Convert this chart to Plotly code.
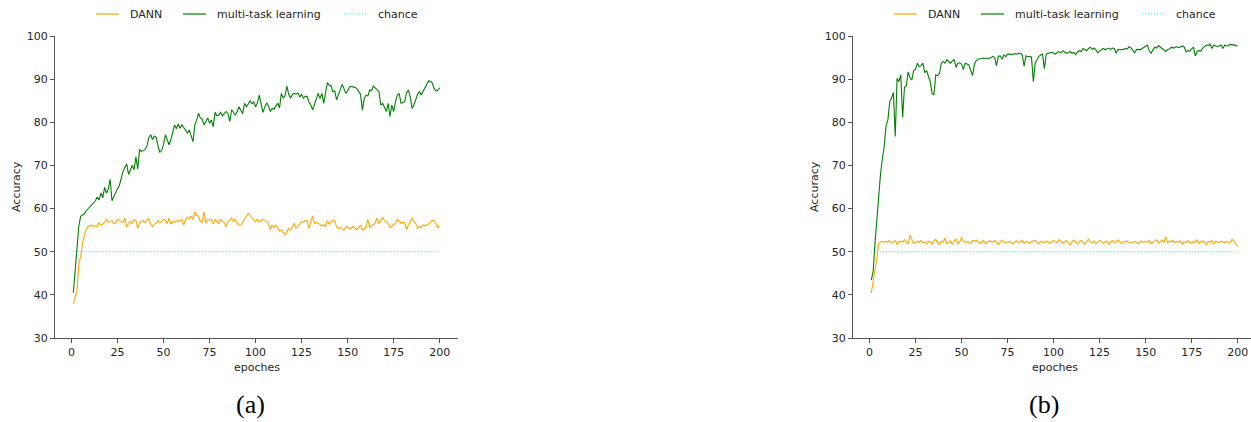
import plotly.graph_objects as go

# ---- data -------------------------------------------------------------
epochs = list(range(1, 201))

dann_a = [
    37.9, 39.5, 41.1, 47.3, 48.8, 52.0, 53.5, 55.2, 55.8, 56.0,
    56.2, 55.8, 56.0, 55.8, 56.7, 56.2, 56.4, 56.9, 57.5, 56.8,
    57.0, 57.2, 56.5, 56.7, 57.5, 57.2, 57.0, 56.8, 57.8, 55.8,
    56.5, 57.0, 56.6, 57.5, 57.2, 55.4, 56.8, 57.0, 57.2, 56.8,
    57.2, 57.8, 56.5, 55.8, 56.4, 56.6, 57.2, 56.7, 57.0, 57.5,
    57.3, 56.5, 57.8, 56.4, 57.0, 56.8, 57.2, 57.0, 57.3, 57.4,
    56.2, 57.5, 58.0, 57.6, 58.3, 57.5, 59.3, 58.5, 58.2, 57.0,
    56.8, 59.3, 56.6, 57.5, 57.3, 57.5, 56.4, 57.5, 57.0, 56.6,
    57.5, 57.2, 56.7, 55.8, 57.0, 57.3, 57.8, 57.0, 57.5, 56.6,
    56.2, 56.2, 56.8, 57.5, 58.2, 58.9, 58.5, 57.8, 57.3, 57.0,
    57.5, 56.9, 57.2, 57.5, 57.3, 57.1, 56.5, 55.1, 56.2, 55.6,
    56.2, 55.4, 54.8, 55.0, 54.5, 53.9, 54.6, 55.4, 55.0, 55.8,
    56.6, 55.4, 55.8, 56.4, 57.0, 56.8, 57.2, 57.2, 55.4, 56.6,
    58.3, 56.6, 56.8, 56.6, 56.2, 56.0, 56.3, 55.8, 57.2, 56.4,
    57.0, 57.1, 57.3, 55.8, 55.4, 55.7, 55.3, 55.0, 55.6, 55.8,
    55.3, 55.4, 55.9, 55.5, 55.1, 55.6, 56.2, 55.0, 55.4, 55.6,
    57.5, 55.6, 56.0, 56.2, 56.8, 57.8, 56.6, 57.0, 58.0, 57.2,
    57.0, 56.5, 55.6, 55.9, 56.2, 56.6, 57.5, 57.0, 56.6, 56.8,
    56.7, 55.1, 56.2, 56.8, 57.8, 57.0, 56.6, 55.4, 55.8, 55.6,
    56.2, 56.0, 56.2, 56.4, 56.8, 57.3, 57.2, 56.6, 55.6, 55.9,
]

mtl_a = [
    40.5, 46.0, 52.0, 56.0, 58.2, 58.6, 58.8, 59.5, 60.0, 60.4,
    61.0, 61.3, 61.8, 62.7, 62.0, 63.6, 62.5, 64.9, 63.6, 64.5,
    66.8, 61.8, 63.0, 63.7, 64.6, 65.3, 67.0, 68.6, 69.5, 70.3,
    67.9, 69.2, 70.0, 69.0, 72.0, 69.2, 73.7, 73.2, 73.4, 73.7,
    74.5, 76.5, 77.1, 76.0, 76.8, 76.5, 74.5, 73.0, 73.5, 74.8,
    77.1, 76.0, 74.8, 76.0, 77.5, 79.4, 78.5, 79.6, 78.6, 79.4,
    78.8, 78.0, 77.5, 78.2, 77.0, 75.5, 79.4, 80.5, 82.1, 81.0,
    80.7, 79.4, 80.2, 81.0, 79.8, 80.5, 79.0, 82.3, 81.5, 81.7,
    82.3, 81.5, 82.0, 82.5, 82.0, 80.2, 82.9, 82.3, 81.7, 82.5,
    83.6, 82.8, 82.0, 84.4, 83.6, 84.2, 85.0, 84.3, 84.7, 83.6,
    84.5, 86.3, 84.0, 82.3, 83.5, 84.5, 83.8, 82.5, 83.2, 83.0,
    83.8, 84.4, 83.3, 86.7, 85.6, 86.2, 88.4, 86.5, 85.6, 86.4,
    86.7, 86.5, 86.8, 85.9, 86.5, 85.6, 86.0, 86.0, 84.7, 84.0,
    82.9, 84.2, 85.8, 86.7, 85.5, 86.7, 84.4, 86.5, 89.2, 88.6,
    88.5, 87.1, 87.3, 85.2, 86.3, 87.5, 88.8, 87.8, 86.7, 87.3,
    88.2, 88.3, 88.2, 88.1, 87.8, 87.1, 86.5, 82.8, 85.5, 86.3,
    86.1, 87.5, 87.3, 88.4, 88.0, 87.6, 87.1, 84.0, 84.4, 83.5,
    82.5, 84.4, 81.3, 84.0, 82.5, 84.8, 86.3, 86.7, 84.4, 84.6,
    84.8, 86.8, 87.5, 85.9, 83.2, 84.0, 85.5, 86.5, 87.1, 86.3,
    87.2, 88.0, 88.8, 89.6, 89.5, 89.1, 87.8, 87.3, 87.4, 88.0,
]

dann_b = [
    40.4, 43.0, 46.5, 48.5, 52.0, 52.3, 52.4, 52.2, 52.4, 52.3,
    52.6, 52.0, 52.3, 52.6, 51.7, 52.3, 52.4, 52.3, 52.8, 52.4,
    51.8, 53.9, 52.8, 51.9, 52.1, 52.4, 52.2, 52.6, 52.1, 52.3,
    51.8, 52.4, 52.3, 51.8, 52.5, 52.9, 52.0, 51.7, 52.4, 52.2,
    53.2, 51.9, 52.1, 52.5, 51.7, 52.6, 52.9, 51.8, 52.3, 53.3,
    52.5, 52.1, 52.4, 52.1, 51.9, 52.6, 52.4, 52.7, 52.4, 51.9,
    52.2, 52.6, 51.8, 52.1, 52.5, 52.4, 52.3, 52.6, 52.1, 51.7,
    52.2, 52.7, 52.3, 52.0, 52.2, 52.4, 52.2, 51.8, 52.3, 52.5,
    52.1, 52.3, 52.7, 52.0, 52.4, 52.2, 51.9, 52.3, 52.4, 52.6,
    52.2, 51.8, 52.4, 52.3, 52.1, 52.5, 52.2, 51.9, 52.3, 52.6,
    52.4, 52.1, 52.8, 52.2, 51.9, 52.3, 52.6, 52.1, 51.6, 52.3,
    52.7, 52.2, 51.8, 52.4, 52.6, 52.2, 51.7, 52.4, 52.9, 52.3,
    52.0, 52.5, 51.8, 52.2, 52.6, 52.4, 52.0, 52.3, 52.5, 51.7,
    52.2, 52.6, 52.1, 52.3, 52.7, 52.2, 51.9, 52.4, 52.2, 52.5,
    52.1, 52.3, 52.0, 52.4, 52.2, 51.8, 52.3, 52.5, 52.1, 52.4,
    52.2, 52.6, 51.9, 52.3, 52.4, 52.8, 52.0, 52.4, 52.6, 52.2,
    53.4, 52.1, 52.5, 52.3, 52.6, 52.1, 52.4, 52.2, 52.5, 51.8,
    52.3, 52.1, 52.6, 52.2, 51.9, 52.4, 52.2, 52.7, 51.9, 52.3,
    52.5, 52.2, 51.6, 52.4, 52.2, 52.6, 51.8, 52.4, 52.3, 52.1,
    52.5, 52.3, 52.0, 52.4, 52.2, 52.1, 52.9, 52.3, 51.8, 51.2,
]

mtl_b = [
    43.4, 45.5, 52.0, 57.5, 62.8, 68.0, 71.5, 74.5, 79.2, 80.5,
    84.8, 85.6, 86.9, 76.7, 90.2, 89.4, 91.0, 81.1, 88.1, 88.4,
    91.7, 90.3, 89.8, 92.0, 92.3, 93.7, 92.9, 93.1, 93.7, 91.5,
    92.0, 90.6, 89.4, 86.7, 86.4, 91.0, 90.8, 91.3, 93.7, 94.1,
    93.7, 94.5, 94.0, 93.7, 94.2, 94.6, 92.7, 93.7, 93.8, 93.5,
    92.2, 93.7, 93.5, 93.3, 92.0, 90.8, 93.5, 94.3, 94.6, 94.7,
    94.8, 94.9, 94.8, 94.9, 94.8, 95.0, 95.3, 95.0, 93.1, 95.3,
    95.4, 94.6, 95.6, 95.2, 95.8, 95.8, 95.7, 95.8, 95.9, 95.8,
    96.0, 96.0, 95.6, 93.0, 95.4, 95.2, 95.3, 95.1, 89.4, 93.7,
    94.5, 95.3, 95.6, 95.8, 92.4, 95.8, 96.0, 96.1, 96.2, 96.0,
    95.8, 96.2, 96.4, 96.1, 96.6, 96.3, 96.0, 96.2, 96.4, 96.0,
    96.2, 95.7, 96.3, 96.6, 96.4, 97.1, 96.8, 96.6, 97.1, 97.4,
    96.9, 97.2, 96.8, 96.1, 96.5, 96.9, 97.1, 96.8, 97.0, 97.2,
    96.9, 97.2, 97.1, 96.0, 96.9, 96.8, 96.8, 96.9, 97.1, 97.0,
    97.5, 97.3, 96.8, 96.1, 96.8, 96.9, 96.8, 97.1, 97.3, 97.6,
    97.9, 96.5, 96.0, 96.8, 97.4, 97.2, 97.8, 97.4, 97.1, 96.8,
    96.4, 96.9, 97.0, 97.4, 97.2, 97.4, 97.5, 97.3, 97.5, 97.7,
    97.4, 96.3, 96.6, 96.5, 97.0, 97.4, 95.4, 96.4, 96.6, 96.5,
    97.2, 97.5, 97.9, 97.8, 98.1, 97.1, 97.9, 97.7, 97.6, 97.7,
    97.9, 97.1, 97.9, 97.7, 97.8, 98.1, 97.9, 98.0, 97.7, 97.8,
]

chance = [50.0] * len(epochs)

series_names = ["DANN", "multi-task learning", "chance"]
series_colors = ["#FFA500", "#008000", "#00FFFF"]
panel_labels = ["(a)", "(b)"]
x_ticks = [0, 25, 50, 75, 100, 125, 150, 175, 200]
y_ticks = [30, 40, 50, 60, 70, 80, 90, 100]

# ---- figure -----------------------------------------------------------
W, H = 1251, 422
FONT = "DejaVu Sans"
TICK_FONT = dict(family=FONT, size=11, color="#262626")
DOTTED = "1px,2px"

fig = go.Figure()

panels = [
    ("x", "y", dann_a, mtl_a),
    ("x2", "y2", dann_b, mtl_b),
]
for xa, ya, dann, mtl in panels:
    fig.add_trace(go.Scatter(x=epochs, y=chance, mode="lines", xaxis=xa, yaxis=ya,
                             line=dict(color=series_colors[2], width=1.2, dash=DOTTED),
                             showlegend=False, hoverinfo="skip"))
    fig.add_trace(go.Scatter(x=epochs, y=dann, mode="lines", xaxis=xa, yaxis=ya,
                             line=dict(color=series_colors[0], width=1.1),
                             showlegend=False))
    fig.add_trace(go.Scatter(x=epochs, y=mtl, mode="lines", xaxis=xa, yaxis=ya,
                             line=dict(color=series_colors[1], width=1.1),
                             showlegend=False))


def px_x(p):
    return p / W


def px_y(p):
    return (H - p) / H


axis_common = dict(showgrid=False, zeroline=False, showline=True,
                   linecolor="#555555", linewidth=1, ticks="outside",
                   ticklen=4, tickwidth=1, tickcolor="#555555",
                   tickfont=TICK_FONT, automargin=False)

left_dom = [px_x(55), px_x(458)]
right_dom = [px_x(853), 1.0]
y_dom = [px_y(338), px_y(36)]
scale = (458 - 55) / (209.95 + 8.95)

fig.update_layout(
    template="none",
    width=W, height=H, autosize=False,
    margin=dict(l=0, r=0, t=0, b=0, pad=0, autoexpand=False),
    paper_bgcolor="white", plot_bgcolor="white",
    showlegend=False,
    xaxis=dict(domain=left_dom, range=[-8.95, 209.95], tickvals=x_ticks,
               anchor="y", **axis_common),
    yaxis=dict(domain=y_dom, range=[30, 100], tickvals=y_ticks,
               anchor="x", **axis_common),
    xaxis2=dict(domain=right_dom, range=[-8.95, -8.95 + (W - 853) / scale],
                tickvals=x_ticks, anchor="y2", **axis_common),
    yaxis2=dict(domain=y_dom, range=[30, 100], tickvals=y_ticks,
                anchor="x2", **axis_common),
)

annotations = []
shapes = []
label_font = dict(family=FONT, size=11, color="#262626")

for offset, caption, cap_x in [(0, panel_labels[0], 250), (798, panel_labels[1], 1044)]:
    # axis titles
    annotations.append(dict(text="epoches", x=px_x(256.5 + offset), y=px_y(367),
                            xref="paper", yref="paper", showarrow=False,
                            xanchor="center", yanchor="middle", font=label_font))
    annotations.append(dict(text="Accuracy", x=px_x(16 + offset), y=px_y(187),
                            xref="paper", yref="paper", showarrow=False,
                            textangle=-90, xanchor="center", yanchor="middle",
                            font=label_font))
    # panel caption
    annotations.append(dict(text=caption, x=px_x(cap_x), y=px_y(404),
                            xref="paper", yref="paper", showarrow=False,
                            xanchor="center", yanchor="middle",
                            font=dict(family="Liberation Serif", size=26, color="black")))
    # legend row
    line_starts = [96, 183, 344]
    for name, color, x0 in zip(series_names, series_colors, line_starts):
        shapes.append(dict(type="line", xref="paper", yref="paper",
                           x0=px_x(x0 + offset), x1=px_x(x0 + 23 + offset),
                           y0=px_y(14), y1=px_y(14),
                           line=dict(color=color, width=1.2,
                                     dash=DOTTED if name == "chance" else "solid")))
        annotations.append(dict(text=name, x=px_x(x0 + 32 + offset), y=px_y(14),
                                xref="paper", yref="paper", showarrow=False,
                                xanchor="left", yanchor="middle", font=label_font))

fig.update_layout(annotations=annotations, shapes=shapes)

fig.write_html("out.html")
